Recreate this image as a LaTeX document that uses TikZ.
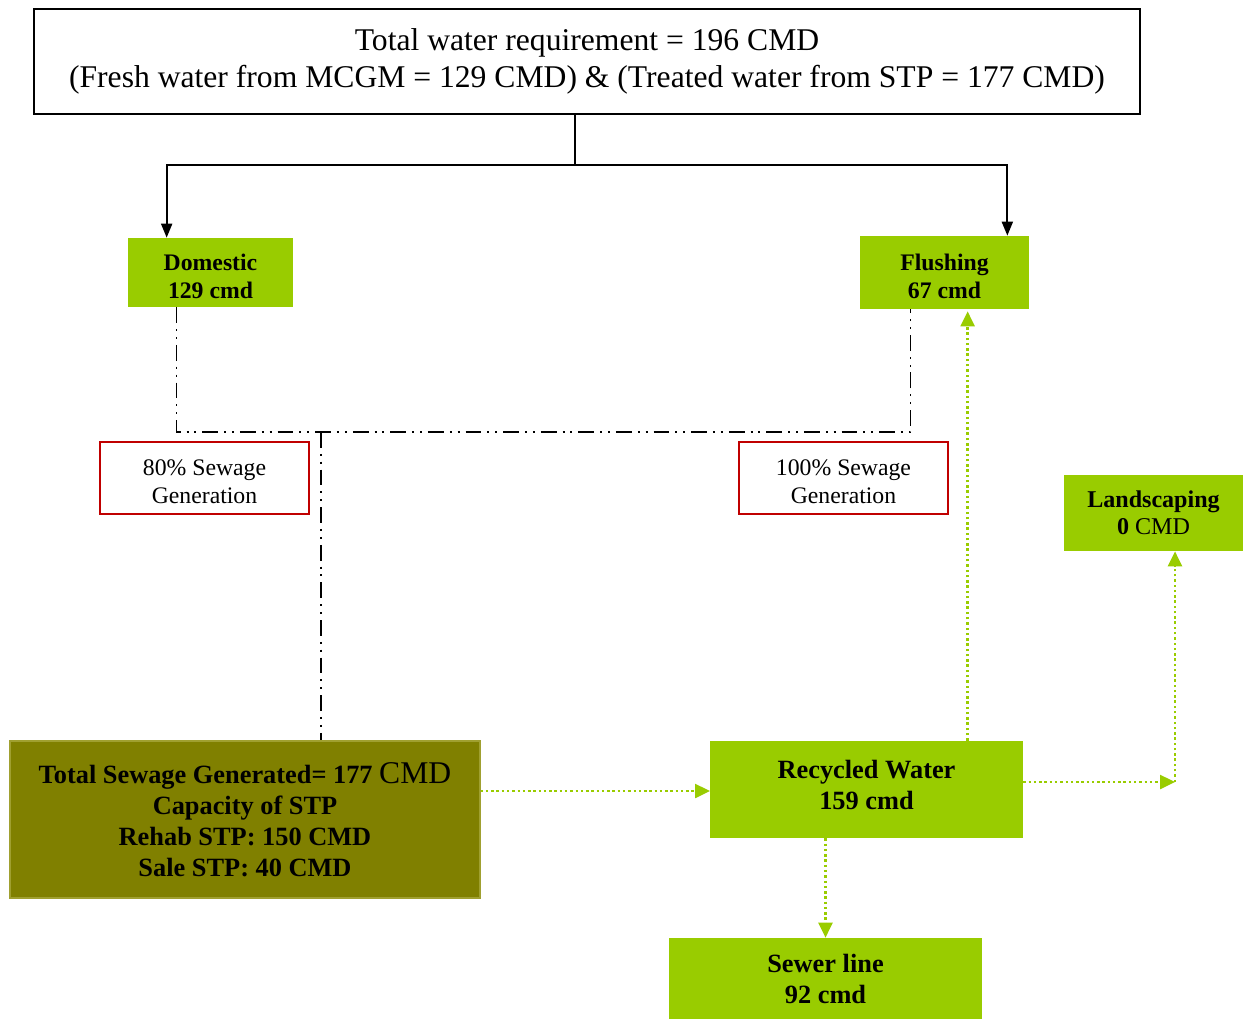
\documentclass[tikz,border=0pt]{standalone}
\usepackage{fontspec}
\setmainfont{Liberation Serif}
\usepackage{xcolor}
\usepackage{tikz}
\usetikzlibrary{positioning}
\usetikzlibrary{arrows.meta}
\definecolor{leafgreen}{HTML}{99CC00}
\definecolor{olivebox}{HTML}{808000}
\definecolor{oliveedge}{HTML}{A0A030}
\definecolor{sewred}{HTML}{C00000}

\begin{document}
\begin{tikzpicture}[
    x=0.02cm, y=-0.02cm,
    font=\fontsize{13.5}{16}\selectfont
]
\tikzset{
    topbox/.style = {draw=black, line width=1.1pt, align=center, inner sep=0pt,
        minimum width=22.12cm, minimum height=2.1cm, font=\fontsize{18}{21}\selectfont},
    greenbox/.style = {fill=leafgreen, draw=none, align=center, inner sep=0pt,
        font=\fontsize{13.5}{16}\selectfont\bfseries},
    sewagebox/.style = {draw=sewred, line width=0.9pt, align=center, inner sep=0pt,
        minimum width=4.18cm, minimum height=1.44cm, font=\fontsize{13.5}{16}\selectfont},
    supplyline/.style = {draw=black, line width=1.1pt, -{Triangle[length=0.28cm,width=0.22cm]}},
    sewline/.style = {draw=black, line width=0.9pt,
        dash pattern=on 9pt off 3.4pt on 1.1pt off 3.4pt on 1.1pt off 3.4pt},
    reuseline/.style = {draw=leafgreen, line width=1.4pt, dash pattern=on 1.4pt off 1.6pt,
        -{Triangle[length=0.3cm,width=0.28cm,fill=leafgreen]}}
}
\useasboundingbox (0,0) rectangle (1244,1018);

% boxes
\node[topbox] (top) at (587,61.5)
    {Total water requirement = 196 CMD\\(Fresh water from MCGM = 129 CMD) \& (Treated water from STP = 177 CMD)};
\node[greenbox, minimum width=3.3cm, minimum height=1.38cm] (dom) at (210.5,272.5) {\rule{0pt}{13.8pt}Domestic\\129 cmd};
\node[greenbox, minimum width=3.38cm, minimum height=1.46cm] (flush) at (944.5,272.5) {\rule{0pt}{13.8pt}Flushing\\67 cmd};
\node[sewagebox] (sew80) at (204.5,478) {\rule{0pt}{12.8pt}80\% Sewage\\Generation};
\node[sewagebox] (sew100) at (843.5,478) {\rule{0pt}{12.8pt}100\% Sewage\\Generation};
\node[greenbox, minimum width=3.58cm, minimum height=1.52cm, font=\fontsize{13.7}{15.4}\selectfont\bfseries]
    (land) at (1153.5,513) {Landscaping\\0 \textmd{CMD}};
\node[greenbox, fill=olivebox, draw=oliveedge, line width=0.8pt, minimum width=9.4cm, minimum height=3.14cm,
    font=\fontsize{15}{17.6}\selectfont\bfseries] (stp) at (245,819.5)
    {Total Sewage Generated= 177 {\mdseries\fontsize{18}{17.6}\selectfont CMD}\\Capacity of STP\\Rehab STP: 150 CMD\\Sale STP: 40 CMD};
\node[greenbox, minimum width=6.26cm, minimum height=1.94cm, font=\fontsize{15}{17.6}\selectfont\bfseries]
    (recyc) at (866.5,789.5) {Recycled Water\\159 cmd\rule[-5.6pt]{0pt}{1pt}};
\node[greenbox, minimum width=6.26cm, minimum height=1.64cm, font=\fontsize{15}{17.6}\selectfont\bfseries]
    (sewer) at (825.5,979) {Sewer line\\92 cmd};

% water supply
\coordinate (split) at (575,165);
\draw[line width=1.1pt] (top.south -| split) -- (split);
\draw[supplyline] (split) -| ([xshift=0.78cm]dom.north west);
\draw[supplyline] (split) -| ([xshift=-0.44cm]flush.north east);

% sewage collection
\coordinate (collect) at (321,432);
\coordinate (domout) at ([xshift=0.98cm]dom.south west);
\coordinate (flushout) at ([xshift=1.02cm]flush.south west);
\draw[sewline] (domout) -- (domout |- collect) -- (flushout |- collect) -- (flushout);
\draw[sewline] (collect) -- (stp.north -| collect);

% treated water
\coordinate (intake) at (710,791);
\draw[reuseline] (stp.east |- intake) -- (intake);
\draw[reuseline] ([xshift=5.16cm]recyc.north west) coordinate (up) -- ([yshift=-0.04cm]up |- flush.south);
\coordinate (bend) at (1175,782);
\draw[reuseline] (recyc.east |- bend) -- (bend);
\draw[reuseline] (bend) -- (bend |- land.south);
\draw[reuseline] (recyc.south -| sewer.north) -- (sewer.north);
\end{tikzpicture}
\end{document}
